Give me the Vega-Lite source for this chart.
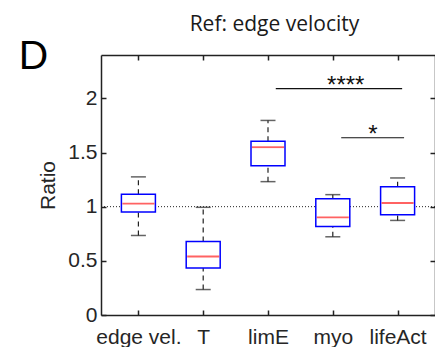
{
  "$schema": "https://vega.github.io/schema/vega-lite/v6.json",
  "width": 334,
  "height": 260,
  "autosize": "none",
  "padding": {"left": 101, "top": 55, "right": 0, "bottom": 32},
  "background": "white",
  "config": {
    "view": {"stroke": null},
    "axis": {
      "domainColor": "#222222",
      "domainWidth": 1.5,
      "tickColor": "#222222",
      "tickWidth": 1.5,
      "tickSize": -5,
      "grid": false,
      "labelFont": "Liberation Sans",
      "labelFontSize": 21,
      "labelColor": "#262626",
      "titleFont": "Liberation Sans",
      "titleFontSize": 21,
      "titleFontWeight": "normal",
      "titleColor": "#262626"
    }
  },
  "datasets": {
    "boxes": [
      {"group": 1, "name": "edge vel.", "lower": 0.734, "q1": 0.951, "median": 1.028, "q3": 1.114, "upper": 1.275},
      {"group": 2, "name": "T", "lower": 0.235, "q1": 0.435, "median": 0.54, "q3": 0.679, "upper": 0.994},
      {"group": 3, "name": "limE", "lower": 1.231, "q1": 1.377, "median": 1.549, "q3": 1.605, "upper": 1.796},
      {"group": 4, "name": "myo", "lower": 0.722, "q1": 0.818, "median": 0.901, "q3": 1.074, "upper": 1.111},
      {"group": 5, "name": "lifeAct", "lower": 0.873, "q1": 0.926, "median": 1.034, "q3": 1.185, "upper": 1.265}
    ],
    "significance": [
      {"from": 3.12, "to": 5.07, "level": 2.09, "mid": 4.2, "stars": "****"},
      {"from": 4.13, "to": 5.1, "level": 1.636, "mid": 4.62, "stars": "*"}
    ],
    "headings": [
      {"text": "D", "x": -0.85, "y": 2.27, "kind": "panel"},
      {"text": "Ref: edge velocity", "x": 3.1, "y": 2.62, "kind": "title"}
    ]
  },
  "layer": [
    {
      "data": {"values": [{"ref": 1}]},
      "mark": {"type": "rule", "color": "#222222", "strokeWidth": 1, "strokeDash": [1, 2]},
      "encoding": {
        "y": {
          "field": "ref", "type": "quantitative",
          "scale": {"domain": [0, 2.4], "nice": false, "zero": false},
          "axis": {
            "orient": "left", "values": [0, 0.5, 1, 1.5, 2], "format": "~g",
            "labelPadding": 9, "title": "Ratio", "titlePadding": 9
          }
        }
      }
    },
    {
      "data": {"name": "boxes"},
      "mark": {"type": "rule", "color": "#222222", "strokeWidth": 1.2, "strokeDash": [5, 4]},
      "encoding": {
        "x": {
          "field": "group", "type": "quantitative",
          "scale": {"domain": [0.5, 5.5], "nice": false, "zero": false},
          "axis": {
            "orient": "bottom", "values": [1, 2, 3, 4, 5],
            "labelExpr": "['edge vel.', 'T', 'limE', 'myo', 'lifeAct'][datum.value - 1]",
            "labelPadding": 16, "title": null
          }
        },
        "y": {"field": "q3", "type": "quantitative", "axis": null},
        "y2": {"field": "upper"}
      }
    },
    {
      "data": {"name": "boxes"},
      "mark": {"type": "rule", "color": "#222222", "strokeWidth": 1.2, "strokeDash": [5, 4]},
      "encoding": {
        "x": {"field": "group", "type": "quantitative", "axis": {"orient": "top", "values": [1, 2, 3, 4, 5], "labels": false, "title": null}},
        "y": {"field": "lower", "type": "quantitative", "axis": {"orient": "right", "values": [0, 0.5, 1, 1.5, 2], "labels": false, "title": null}},
        "y2": {"field": "q1"}
      }
    },
    {
      "data": {"name": "boxes"},
      "mark": {"type": "tick", "orient": "horizontal", "color": "#222222", "size": 15, "thickness": 1.5},
      "encoding": {
        "x": {"field": "group", "type": "quantitative", "axis": null},
        "y": {"field": "upper", "type": "quantitative", "axis": null}
      }
    },
    {
      "data": {"name": "boxes"},
      "mark": {"type": "tick", "orient": "horizontal", "color": "#222222", "size": 15, "thickness": 1.5},
      "encoding": {
        "x": {"field": "group", "type": "quantitative", "axis": null},
        "y": {"field": "lower", "type": "quantitative", "axis": null}
      }
    },
    {
      "data": {"name": "boxes"},
      "mark": {"type": "bar", "size": 34, "fill": "white", "stroke": "#0000ff", "strokeWidth": 1.5},
      "encoding": {
        "x": {"field": "group", "type": "quantitative", "axis": null},
        "y": {"field": "q1", "type": "quantitative", "axis": null},
        "y2": {"field": "q3"}
      }
    },
    {
      "data": {"name": "boxes"},
      "mark": {"type": "tick", "orient": "horizontal", "color": "#ff2020", "size": 32, "thickness": 1.8},
      "encoding": {
        "x": {"field": "group", "type": "quantitative", "axis": null},
        "y": {"field": "median", "type": "quantitative", "axis": null}
      }
    },
    {
      "data": {"name": "significance"},
      "mark": {"type": "rule", "color": "#111111", "strokeWidth": 1.2},
      "encoding": {
        "x": {"field": "from", "type": "quantitative", "axis": null},
        "x2": {"field": "to"},
        "y": {"field": "level", "type": "quantitative", "axis": null}
      }
    },
    {
      "data": {"name": "significance"},
      "mark": {"type": "text", "font": "Liberation Sans", "fontSize": 24, "letterSpacing": 0.7, "color": "#111111", "baseline": "alphabetic", "dy": 4},
      "encoding": {
        "x": {"field": "mid", "type": "quantitative", "axis": null},
        "y": {"field": "level", "type": "quantitative", "axis": null},
        "text": {"field": "stars"}
      }
    },
    {
      "data": {"name": "headings"},
      "transform": [{"filter": "datum.kind === 'panel'"}],
      "mark": {"type": "text", "font": "Lato", "fontSize": 39, "color": "#000000", "align": "left", "baseline": "alphabetic", "clip": false},
      "encoding": {
        "x": {"field": "x", "type": "quantitative", "axis": null},
        "y": {"field": "y", "type": "quantitative", "axis": null},
        "text": {"field": "text"}
      }
    },
    {
      "data": {"name": "headings"},
      "transform": [{"filter": "datum.kind === 'title'"}],
      "mark": {"type": "text", "font": "Open Sans", "fontSize": 21, "letterSpacing": 1, "color": "#1a1a1a", "align": "center", "baseline": "alphabetic", "clip": false},
      "encoding": {
        "x": {"field": "x", "type": "quantitative", "axis": null},
        "y": {"field": "y", "type": "quantitative", "axis": null},
        "text": {"field": "text"}
      }
    }
  ],
  "resolve": {"axis": {"x": "independent", "y": "independent"}}
}
